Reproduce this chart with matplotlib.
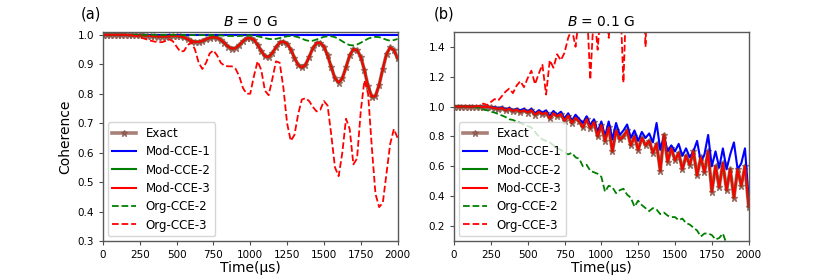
import numpy as np
import matplotlib
matplotlib.use("Agg")
import matplotlib.pyplot as plt

# ---------------- data ----------------
time_us = list(range(0, 2001, 25))

# Panel (a): B = 0 G
a_exact = [1.000, 1.000, 1.000, 1.000, 1.000, 1.000, 1.000, 0.999, 0.999, 0.999,
           0.998, 0.998, 0.997, 0.996, 0.995, 0.994, 0.994, 0.994, 0.995, 0.996,
           0.996, 0.995, 0.991, 0.985, 0.979, 0.976, 0.976, 0.979, 0.985, 0.990,
           0.992, 0.990, 0.983, 0.972, 0.960, 0.953, 0.955, 0.965, 0.978, 0.988,
           0.989, 0.983, 0.966, 0.945, 0.927, 0.925, 0.938, 0.958, 0.974, 0.977,
           0.970, 0.950, 0.922, 0.898, 0.889, 0.898, 0.925, 0.955, 0.972, 0.973,
           0.960, 0.930, 0.890, 0.852, 0.838, 0.852, 0.890, 0.930, 0.951, 0.948,
           0.925, 0.880, 0.825, 0.790, 0.792, 0.830, 0.885, 0.935, 0.957, 0.948,
           0.920]
a_mod1 = [1.000] * 81
a_mod2 = list(a_exact)
a_mod3 = list(a_exact)
a_org2 = [1.000, 1.000, 1.000, 1.000, 1.000, 1.000, 1.000, 1.000, 1.000, 1.000,
          1.000, 1.000, 1.000, 1.000, 1.000, 1.000, 1.000, 1.000, 1.000, 1.000,
          0.999, 0.999, 0.999, 0.999, 0.999, 0.999, 0.999, 0.999, 0.999, 0.999,
          0.999, 0.998, 0.998, 0.997, 0.996, 0.996, 0.996, 0.996, 0.997, 0.998,
          0.998, 0.997, 0.995, 0.992, 0.989, 0.986, 0.985, 0.986, 0.989, 0.992,
          0.995, 0.996, 0.995, 0.992, 0.987, 0.982, 0.979, 0.980, 0.984, 0.989,
          0.993, 0.995, 0.995, 0.992, 0.986, 0.978, 0.970, 0.965, 0.964, 0.967,
          0.973, 0.980, 0.987, 0.991, 0.993, 0.992, 0.988, 0.983, 0.980, 0.982,
          0.986]
a_org3 = [1.000, 1.000, 1.000, 1.000, 1.000, 1.000, 1.000, 0.999, 0.998, 0.996,
          0.992, 0.988, 0.984, 0.980, 0.977, 0.975, 0.975, 0.979, 0.985, 0.978,
          0.960, 0.943, 0.945, 0.965, 0.975, 0.950, 0.905, 0.884, 0.905, 0.937,
          0.947, 0.930, 0.905, 0.895, 0.893, 0.893, 0.885, 0.860, 0.820, 0.800,
          0.800, 0.860, 0.910, 0.880, 0.810, 0.795, 0.850, 0.910, 0.905, 0.820,
          0.700, 0.640, 0.660, 0.730, 0.780, 0.785, 0.775, 0.755, 0.740, 0.745,
          0.775, 0.760, 0.660, 0.550, 0.520, 0.600, 0.715, 0.680, 0.560, 0.580,
          0.740, 0.845, 0.800, 0.620, 0.460, 0.415, 0.430, 0.530, 0.630, 0.680,
          0.650]

# Panel (b): B = 0.1 G
b_exact = [1.000, 1.000, 1.000, 1.000, 0.999, 1.000, 0.998, 1.000, 0.997, 0.999,
           0.995, 0.990, 0.985, 0.990, 0.975, 0.985, 0.970, 0.980, 0.965, 0.975,
           0.960, 0.975, 0.945, 0.965, 0.950, 0.960, 0.920, 0.955, 0.935, 0.950,
           0.905, 0.940, 0.890, 0.925, 0.900, 0.860, 0.915, 0.855, 0.895, 0.800,
           0.875, 0.770, 0.860, 0.700, 0.840, 0.780, 0.800, 0.840, 0.740, 0.800,
           0.710, 0.790, 0.740, 0.770, 0.690, 0.750, 0.570, 0.810, 0.630, 0.720,
           0.640, 0.690, 0.580, 0.670, 0.610, 0.700, 0.540, 0.660, 0.560, 0.700,
           0.430, 0.600, 0.460, 0.620, 0.440, 0.580, 0.390, 0.580, 0.470, 0.600,
           0.330]
b_mod1 = [1.000, 1.000, 1.000, 1.000, 0.999, 1.000, 0.998, 1.000, 0.997, 0.999,
          0.995, 0.995, 0.990, 0.995, 0.980, 0.990, 0.975, 0.985, 0.975, 0.985,
          0.965, 0.985, 0.955, 0.975, 0.960, 0.975, 0.935, 0.970, 0.945, 0.965,
          0.920, 0.955, 0.905, 0.945, 0.915, 0.890, 0.935, 0.875, 0.915, 0.830,
          0.900, 0.800, 0.900, 0.780, 0.890, 0.810, 0.840, 0.880, 0.790, 0.840,
          0.770, 0.830, 0.790, 0.820, 0.760, 0.890, 0.710, 0.800, 0.700, 0.740,
          0.700, 0.750, 0.670, 0.720, 0.660, 0.700, 0.770, 0.630, 0.680, 0.810,
          0.600, 0.700, 0.590, 0.720, 0.580, 0.680, 0.760, 0.580, 0.620, 0.720,
          0.380]
b_mod2 = list(b_exact)
b_mod3 = list(b_exact)
b_org2 = [1.000, 1.000, 1.000, 1.000, 1.000, 1.000, 0.995, 0.990, 0.980, 0.975,
          0.965, 0.960, 0.950, 0.940, 0.930, 0.915, 0.910, 0.900, 0.890, 0.880,
          0.870, 0.860, 0.830, 0.800, 0.780, 0.770, 0.760, 0.740, 0.720, 0.710,
          0.690, 0.680, 0.690, 0.660, 0.650, 0.600, 0.610, 0.570, 0.560, 0.550,
          0.530, 0.430, 0.470, 0.460, 0.420, 0.440, 0.450, 0.410, 0.390, 0.330,
          0.370, 0.340, 0.320, 0.300, 0.320, 0.310, 0.280, 0.290, 0.270, 0.260,
          0.260, 0.240, 0.250, 0.220, 0.210, 0.190, 0.170, 0.130, 0.150, 0.150,
          0.140, 0.110, 0.120, 0.150, 0.080, 0.060, 0.050, 0.040, 0.030, 0.020,
          0.010]
b_org3 = [1.000, 1.000, 1.000, 1.000, 1.000, 1.000, 1.000, 1.005, 1.020, 1.010,
          1.030, 1.050, 1.040, 1.070, 1.100, 1.120, 1.090, 1.140, 1.170, 1.130,
          1.190, 1.240, 1.150, 1.220, 1.280, 1.080, 1.310, 1.260, 1.350, 1.310,
          1.360, 1.460, 1.520, 1.400, 1.620, 1.500, 1.700, 1.180, 1.650, 1.380,
          1.700, 1.800, 1.460, 1.800, 1.900, 1.800, 1.160, 1.900, 2.000, 2.100,
          2.000, 2.200, 1.400, 2.200, 2.300, 2.400, 2.500, 2.600, 2.700, 2.800,
          2.900, 3.000, 3.100, 3.200, 3.300, 3.400, 3.500, 3.600, 3.700, 3.800,
          3.900, 4.000, 4.100, 4.200, 4.300, 4.400, 4.500, 4.600, 4.700, 4.800,
          4.900]

x_ticks = [0, 250, 500, 750, 1000, 1250, 1500, 1750, 2000]

# ---------------- figure ----------------
fig = plt.figure(figsize=(8.3, 2.77), dpi=100)
axA = fig.add_axes([0.124, 0.130, 0.355, 0.755])
axB = fig.add_axes([0.547, 0.130, 0.355, 0.755])

def draw(ax, ex, m1, m2, m3, o2, o3):
    ax.plot(time_us, ex, color='#8c564b', alpha=0.75, lw=2.6, marker='*',
            markersize=5, label='Exact')
    ax.plot(time_us, m1, color='blue', lw=1.5, label='Mod-CCE-1')
    ax.plot(time_us, m2, color='green', lw=1.5, label='Mod-CCE-2')
    ax.plot(time_us, m3, color='red', lw=1.5, label='Mod-CCE-3')
    ax.plot(time_us, o2, color='green', lw=1.3, ls='--', label='Org-CCE-2')
    ax.plot(time_us, o3, color='red', lw=1.3, ls='--', label='Org-CCE-3')
    ax.set_xlim(0, 2000)
    ax.set_xticks(x_ticks)
    ax.tick_params(labelsize=7.5, length=3, color='0.3')
    for s in ax.spines.values():
        s.set_color('0.35')
        s.set_linewidth(1.0)
    ax.set_xlabel('Time(μs)', fontsize=10, labelpad=1)
    ax.legend(loc='lower left', fontsize=8.5, handlelength=2.0,
              borderpad=0.4, labelspacing=0.45, borderaxespad=0.4)

draw(axA, a_exact, a_mod1, a_mod2, a_mod3, a_org2, a_org3)
axA.set_ylim(0.3, 1.01)
axA.set_yticks([0.3, 0.4, 0.5, 0.6, 0.7, 0.8, 0.9, 1.0])
axA.set_ylabel('Coherence', fontsize=10)
axA.set_title('$B$ = 0 G', fontsize=10, pad=4)

draw(axB, b_exact, b_mod1, b_mod2, b_mod3, b_org2, b_org3)
axB.set_ylim(0.1, 1.5)
axB.set_yticks([0.2, 0.4, 0.6, 0.8, 1.0, 1.2, 1.4])
axB.set_title('$B$ = 0.1 G', fontsize=10, pad=4)

fig.text(0.097, 0.935, '(a)', fontsize=10.5)
fig.text(0.523, 0.935, '(b)', fontsize=10.5)

fig.savefig('out.png', dpi=100)
